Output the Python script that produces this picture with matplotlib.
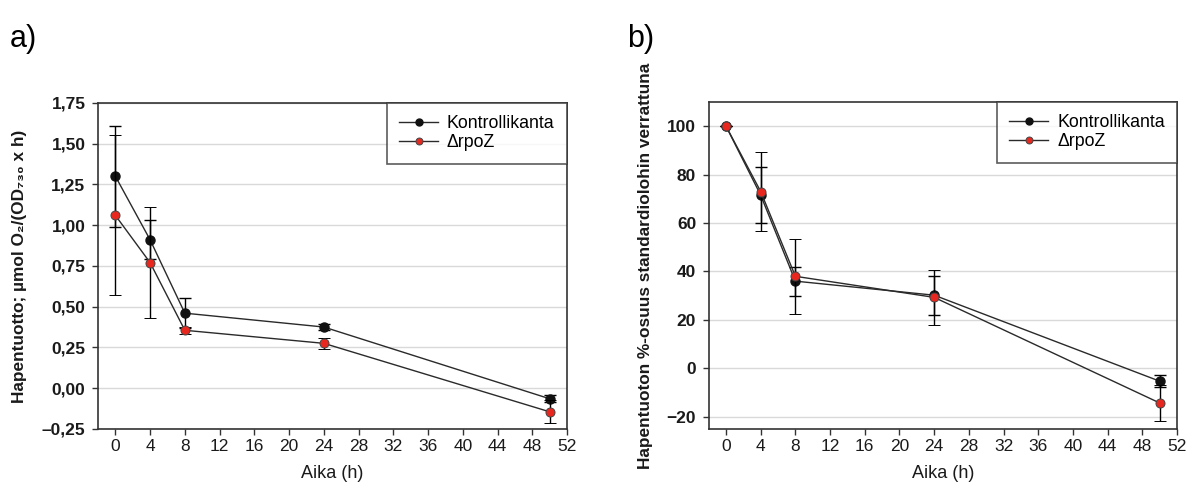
import numpy as np
import matplotlib
matplotlib.use('Agg')
import matplotlib.pyplot as plt
from matplotlib.ticker import FuncFormatter
from matplotlib.lines import Line2D

plt.rcParams['font.family'] = ['Liberation Sans', 'DejaVu Sans']

# data
aika = [0, 4, 8, 24, 50]

# a) oxygen production rate
a_kontrolli = [1.30, 0.91, 0.46, 0.375, -0.065]
a_kontrolli_err = [0.31, 0.12, 0.09, 0.02, 0.02]
a_rpoz = [1.06, 0.77, 0.355, 0.275, -0.145]
a_rpoz_err = [0.49, 0.34, 0.02, 0.035, 0.07]

# b) percentage relative to standard conditions
b_kontrolli = [100, 71.5, 36, 30.2, -5.3]
b_kontrolli_err = [0, 11.5, 6, 8, 2.5]
b_rpoz = [100, 73, 38, 29.3, -14.3]
b_rpoz_err = [0, 16.5, 15.5, 11.2, 7.5]

labels = ['Kontrollikanta', '\u0394rpoZ']
xticks = np.arange(0, 53, 4)

fig = plt.figure(figsize=(11.95, 4.97), dpi=100)
axa = fig.add_axes([0.082, 0.137, 0.3925, 0.656])
axb = fig.add_axes([0.593, 0.137, 0.392, 0.658])


def draw(ax, y1, e1, y2, e2):
    ax.errorbar(aika, y1, yerr=e1, color='#2a2a2a', lw=1.0, ecolor='black',
                elinewidth=1.0, capsize=4, capthick=1.0, marker='o', ms=6.5,
                mfc='#111111', mec='#111111', zorder=3)
    ax.errorbar(aika, y2, yerr=e2, color='#2a2a2a', lw=1.0, ecolor='black',
                elinewidth=1.0, capsize=4, capthick=1.0, marker='o', ms=6.5,
                mfc='#e8281e', mec='#444444', mew=0.7, zorder=4)
    ax.set_xlim(-2, 52)
    ax.set_xticks(xticks)
    ax.yaxis.grid(True, color='#d9d9d9', lw=1.0)
    ax.set_axisbelow(True)
    ax.tick_params(direction='out', length=4, width=1, labelsize=12.5,
                   colors='#333333', labelcolor='#1a1a1a', top=False, right=False)
    ax.tick_params(axis='y', pad=5)
    for s in ax.spines.values():
        s.set_linewidth(1.2)
        s.set_color('#333333')
    ax.set_xlabel('Aika (h)', fontsize=13, labelpad=8, color='#1a1a1a')
    handles = [
        Line2D([], [], color='#2a2a2a', lw=1.0, marker='o', ms=5,
               mfc='#111111', mec='#111111'),
        Line2D([], [], color='#2a2a2a', lw=1.0, marker='o', ms=5,
               mfc='#e8281e', mec='#444444', mew=0.7),
    ]
    leg = ax.legend(handles, labels, loc='upper right', fontsize=12.8,
                    frameon=True, fancybox=False, borderaxespad=0,
                    handlelength=2.2, handletextpad=0.5, borderpad=0.7,
                    labelspacing=0.1)
    leg.get_frame().set_edgecolor('#333333')
    leg.get_frame().set_linewidth(1.2)


draw(axa, a_kontrolli, a_kontrolli_err, a_rpoz, a_rpoz_err)
axa.set_ylim(-0.25, 1.75)
axa.set_yticks(np.arange(-0.25, 1.76, 0.25))
axa.yaxis.set_major_formatter(
    FuncFormatter(lambda v, p: ('%.2f' % v).replace('.', ',').replace('-', '\u2013')))
for lab in axa.get_yticklabels():
    lab.set_fontweight('bold')
axa.set_ylabel('Hapentuotto; \u00b5mol O\u2082/(OD\u2087\u2083\u2080 x h)', fontsize=12.4,
               fontweight='bold', labelpad=11, color='#1a1a1a')

draw(axb, b_kontrolli, b_kontrolli_err, b_rpoz, b_rpoz_err)
axb.set_ylim(-25, 110)
axb.set_yticks(np.arange(-20, 101, 20))
for lab in axb.get_yticklabels():
    lab.set_fontweight('bold')
axb.set_ylabel('Hapentuoton %-osuus standardiolohin verrattuna', fontsize=12.4,
               fontweight='bold', labelpad=10, color='#1a1a1a')

fig.text(0.008, 0.905, 'a)', fontsize=22)
fig.text(0.525, 0.905, 'b)', fontsize=22)

fig.savefig('out.png', dpi=100, facecolor='white')
